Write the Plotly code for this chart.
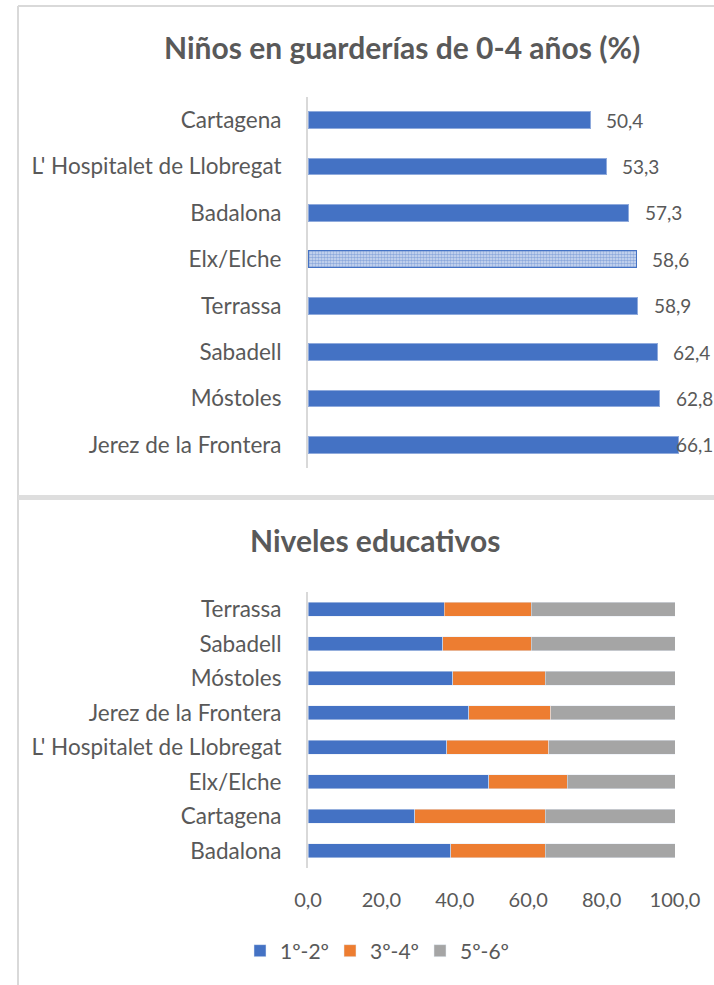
import plotly.graph_objects as go

# top chart: kids in nursery 0-4 (%)
ciudades_top = ["Cartagena", "L' Hospitalet de Llobregat", "Badalona", "Elx/Elche",
                "Terrassa", "Sabadell", "Móstoles", "Jerez de la Frontera"]
guarderias = [50.4, 53.3, 57.3, 58.6, 58.9, 62.4, 62.8, 66.1]
patron = ["", "", "", ".", "", "", "", ""]

# bottom chart: education levels
ciudades_bot = ["Terrassa", "Sabadell", "Móstoles", "Jerez de la Frontera",
                "L' Hospitalet de Llobregat", "Elx/Elche", "Cartagena", "Badalona"]
nivel_12 = [37.1, 36.7, 39.4, 43.8, 37.8, 49.2, 29.1, 38.9]
nivel_34 = [23.7, 24.1, 25.2, 22.3, 27.8, 21.5, 35.5, 25.7]
nivel_56 = [39.2, 39.2, 35.4, 33.9, 34.4, 29.3, 35.4, 35.4]
ticks_x = [0, 20, 40, 60, 80, 100]

W, H = 714, 985
FONT = "Lato"
GRIS = "#595959"
AZUL = "#4472C4"
NARANJA = "#ED7D31"
GRIS_BAR = "#A5A5A5"

def px(x):
    return x / W

def py(y):
    return 1 - y / H

fig = go.Figure()

borde_bar = ["#8FAADC" if p == "" else AZUL for p in patron]
fig.add_trace(go.Bar(
    y=ciudades_top, x=guarderias, orientation="h",
    marker=dict(color=AZUL, line=dict(color=borde_bar, width=1),
                pattern=dict(shape=patron, fgcolor=AZUL, bgcolor="#D6E0F3", size=3, solidity=0.6)),
    width=0.36, showlegend=False, xaxis="x", yaxis="y", hoverinfo="skip"))

for nombre, vals, col in [("1º-2º", nivel_12, AZUL), ("3º-4º", nivel_34, NARANJA), ("5º-6º", nivel_56, GRIS_BAR)]:
    fig.add_trace(go.Bar(
        y=ciudades_bot, x=vals, orientation="h", name=nombre,
        marker=dict(color=col), width=0.4, xaxis="x2", yaxis="y2"))

# value labels in the top chart (excel pulls the last one back inside the chart)
xmax_top = (W - 308) / 5.6
for c, v in zip(ciudades_top, guarderias):
    txt = f"{v:.1f}".replace(".", ",")
    if v < 65:
        fig.add_annotation(x=v, y=c, xref="x", yref="y", text=txt,
                           showarrow=False, xanchor="left", xshift=14,
                           font=dict(family=FONT, size=19, color=GRIS))
    else:
        fig.add_annotation(x=xmax_top, y=c, xref="x", yref="y", text=txt,
                           showarrow=False, xanchor="right", xshift=1,
                           font=dict(family=FONT, size=19, color=GRIS))

fig.add_annotation(x=px(402), y=py(47), xref="paper", yref="paper", yanchor="middle",
                   text="<b>Niños en guarderías de 0-4 años (%)</b>", showarrow=False,
                   font=dict(family=FONT, size=30, color=GRIS))
fig.add_annotation(x=px(375), y=py(540), xref="paper", yref="paper", yanchor="middle",
                   text="<b>Niveles educativos</b>", showarrow=False,
                   font=dict(family=FONT, size=30, color=GRIS))

# chart frames
borde = "#D9D9D9"
fig.add_shape(type="line", xref="paper", yref="paper", x0=px(18), x1=1, y0=py(6), y1=py(6),
              line=dict(color=borde, width=2))
fig.add_shape(type="line", xref="paper", yref="paper", x0=px(18), x1=px(18), y0=py(6), y1=0,
              line=dict(color=borde, width=2))
fig.add_shape(type="rect", xref="paper", yref="paper", x0=px(18), x1=1, y0=py(495), y1=py(500),
              fillcolor="#DEDEDE", line=dict(width=0))

cat_font = dict(family=FONT, size=22.5, color=GRIS)
fig.update_layout(
    width=W, height=H, margin=dict(l=0, r=0, t=0, b=0, autoexpand=False),
    paper_bgcolor="white", plot_bgcolor="white",
    separators=",.", barmode="stack",
    xaxis=dict(domain=[px(308), 1], range=[0, xmax_top], visible=False, anchor="y",
               automargin=False),
    yaxis=dict(domain=[py(468), py(97)], autorange="reversed", anchor="x", automargin=False,
               showline=True, linecolor=borde, linewidth=2, ticks="",
               ticklabelstandoff=20, tickfont=cat_font),
    xaxis2=dict(domain=[px(308), px(675)], range=[0, 100], anchor="y2", automargin=False,
                tickvals=ticks_x, tickformat=".1f", showgrid=False, showline=False,
                zeroline=False, ticks="", ticklabelstandoff=18,
                tickfont=dict(family=FONT, size=20, color=GRIS)),
    yaxis2=dict(domain=[py(868), py(592)], autorange="reversed", anchor="x2", automargin=False,
                showline=True, linecolor=borde, linewidth=2, ticks="",
                ticklabelstandoff=20, tickfont=cat_font),
    legend=dict(orientation="h", x=px(240), xanchor="left", y=py(951), yanchor="middle",
                font=dict(family=FONT, size=21, color=GRIS), itemwidth=30, entrywidth=45,
                traceorder="normal"),
)

# page margin off so the figure fills the window
fig.write_html("out.html", config={"displayModeBar": False},
               post_script="document.body.style.margin='0';")
